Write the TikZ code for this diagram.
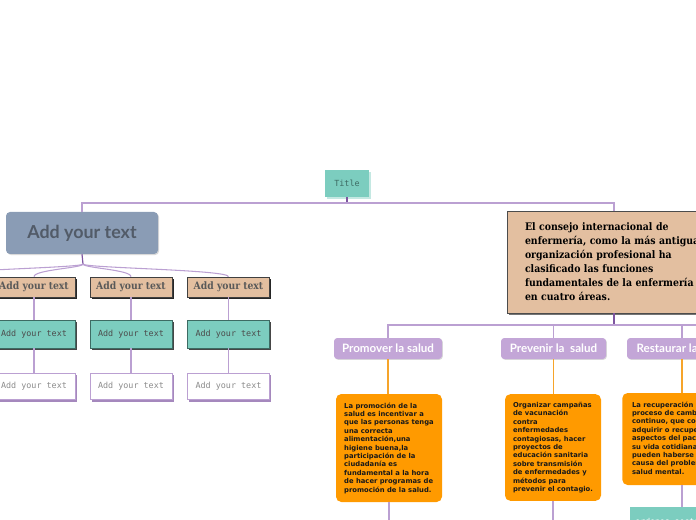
\documentclass[tikz,border=0pt]{standalone}
\usepackage{fontspec}
\setmainfont{DejaVu Sans}
\newfontfamily\headfont{Lato}
\newfontfamily\slabfont{DejaVu Serif Condensed}
\newfontfamily\codefont{DejaVu Sans Mono}
\usetikzlibrary{shadows}
\definecolor{teal}{HTML}{7CCDBF}
\definecolor{tealline}{HTML}{3D6B63}
\definecolor{tan}{HTML}{E3BFA0}
\definecolor{slate}{HTML}{8A9CB5}
\definecolor{slatetext}{HTML}{525B68}
\definecolor{lavender}{HTML}{C3A6D7}
\definecolor{orangebox}{HTML}{FF9A00}
\definecolor{orangeline}{HTML}{F6A42A}
\definecolor{linkpurple}{HTML}{BBA0D2}
\definecolor{darkpurple}{HTML}{7E55A0}
\tikzset{
  link/.style={draw=linkpurple, line width=0.8pt},
  darklink/.style={draw=darkpurple, line width=0.9pt},
  orangelink/.style={draw=orangeline, line width=1pt},
  titlebox/.style={fill=teal, minimum width=33pt, minimum height=20pt, inner sep=0pt,
    drop shadow={shadow xshift=1.5pt, shadow yshift=-1.5pt, fill=teal!45, opacity=1},
    font=\codefont\fontsize{6.3}{7}\selectfont, text=tealline},
  mainbox/.style={fill=slate, rounded corners=3pt, minimum width=114pt, minimum height=31.5pt,
    drop shadow={shadow xshift=0.8pt, shadow yshift=-0.8pt, fill=black, opacity=.15},
    font=\headfont\bfseries\fontsize{13.4}{14}\selectfont, text=slatetext},
  tanbox/.style={fill=tan, draw=black!75, line width=0.5pt, minimum width=61.5pt, minimum height=15pt,
    inner sep=0pt, drop shadow={shadow xshift=1.3pt, shadow yshift=-1.3pt, fill=black, opacity=.85},
    font=\slabfont\bfseries\fontsize{7.7}{9}\selectfont, text=black!65},
  tealbox/.style={fill=teal, draw=tealline, line width=0.5pt, minimum width=61.5pt, minimum height=21pt,
    inner sep=0pt, drop shadow={shadow xshift=1.3pt, shadow yshift=-1.3pt, fill=black!85, opacity=.85},
    font=\codefont\fontsize{6.3}{7}\selectfont, text=black!70},
  whitebox/.style={fill=white, draw=linkpurple, line width=0.6pt, minimum width=61.5pt, minimum height=20pt,
    inner sep=0pt, drop shadow={shadow xshift=1.3pt, shadow yshift=-1.3pt, fill=darkpurple!70, opacity=1},
    font=\codefont\fontsize{6.3}{7}\selectfont, text=black!45},
  notebox/.style={fill=tan, draw=black!70, line width=0.5pt, minimum width=160.5pt, minimum height=76.5pt,
    inner xsep=13.5pt, align=left, text width=133.5pt,
    drop shadow={shadow xshift=1.3pt, shadow yshift=-1.3pt, fill=black!60, opacity=.9},
    font=\slabfont\bfseries\fontsize{7.8}{10.5}\selectfont, text=black},
  areabox/.style={fill=lavender, rounded corners=2.5pt, minimum height=15.75pt, inner sep=0pt,
    drop shadow={shadow xshift=0.6pt, shadow yshift=-0.6pt, fill=black, opacity=.15},
    font=\headfont\bfseries\fontsize{8.7}{10}\selectfont, text=white},
  orangenote/.style={fill=orangebox, rounded corners=4pt, align=left, inner sep=0pt,
    font=\bfseries\fontsize{5.1}{6.3}\selectfont, text=black!90}
}
\begin{document}
\begin{tikzpicture}[x=0.75pt, y=-0.75pt]
\useasboundingbox (0,0) rectangle (696,520);
\clip (0,0) rectangle (696,520);
% top of the map
\node[titlebox] (title) at (347,183.5) {Title};
\coordinate (hub) at (347,203);
\node[mainbox] (main) at (82,233) {Add your text};
\node[notebox] (consejo) at (614,262) {El consejo internacional de\\
enfermería, como la más antigua\\
organización profesional ha\\
clasificado las funciones\\
fundamentales de la enfermería\\
en cuatro áreas.};
\draw[darklink] (title.south) -- (hub);
\draw[link] (main.north) |- (hub) -| (consejo.north);
% left branch
\node[tanbox] (tanA) at (34,287) {Add your text};
\node[tanbox] (tanB) at (131,287) {Add your text};
\node[tanbox] (tanC) at (228.5,287) {Add your text};
\node[tealbox] (tealA) at (34,334) {Add your text};
\node[tealbox] (tealB) at (131,334) {Add your text};
\node[tealbox] (tealC) at (228.5,334) {Add your text};
\node[whitebox] (whiteA) at (34,386.5) {Add your text};
\node[whitebox] (whiteB) at (131,386.5) {Add your text};
\node[whitebox] (whiteC) at (228.5,386.5) {Add your text};
\coordinate (fan) at (83,264);
\coordinate (offleft) at (-70,277);
\draw[darklink] (main.south) -- (fan);
\foreach \n in {tanA,tanB,tanC}
  \draw[link] (fan) .. controls +(0,4) and +(0,-7) .. (\n.north);
\draw[link] (fan) .. controls +(0,4) and +(0,-7) .. (offleft);
\foreach \n in {A,B,C}{
  \draw[link] (tan\n.south) -- (teal\n.north);
  \draw[link] (teal\n.south) -- (white\n.north);
}
% the four areas
\coordinate (hubB) at (614,325);
\node[areabox, minimum width=81pt] (promover) at (388,348.5) {Promover la salud};
\node[areabox, minimum width=78.75pt] (prevenir) at (553.5,348.5) {Prevenir la\ \ salud};
\node[areabox, minimum width=82.5pt] (restaurar) at (682,348.5) {Restaurar la salud};
\coordinate (areaD) at (800,338);
\draw[darklink] (consejo.south) -- (hubB);
\draw[link] (hubB) -| (promover.north);
\draw[link] (hubB) -| (prevenir.north);
\draw[link] (hubB) -| (restaurar.north);
\draw[link] (hubB) -| (areaD);
\node[orangenote, minimum width=79.5pt, minimum height=81pt] (promA) at (389,448) {La promoción de la\\
salud es incentivar a\\
que las personas tenga\\
una correcta\\
alimentación,una\\
higiene buena,la\\
participación de la\\
ciudadanía es\\
fundamental a la hora\\
de hacer programas de\\
promoción de la salud.};
\node[orangenote, minimum width=72pt, minimum height=80pt] (prevA) at (553,447.5) {Organizar campañas\\
de vacunación\\
contra\\
enfermedades\\
contagiosas, hacer\\
proyectos de\\
educación sanitaria\\
sobre transmisión\\
de enfermedades y\\
métodos para\\
prevenir el contagio.};
\node[orangenote, minimum width=90pt, minimum height=69pt, anchor=west] (restA) at (622,439) {\hspace*{5.3pt}\begin{tabular}{@{}l@{}}La recuperación es un\\
proceso de cambio\\
continuo, que consiste en\\
adquirir o recuperar\\
aspectos del paciente en\\
su vida cotidiana que\\
pueden haberse perdido a\\
causa del problema de\\
salud mental.\end{tabular}\hspace*{5pt}};
\draw[orangelink] (promover.south) -- (promover.south |- promA.north);
\draw[orangelink] (prevenir.south) -- (prevenir.south |- prevA.north);
\draw[orangelink] (restaurar.south) -- (restaurar.south |- restA.north);
% next level, below the page
\node[fill=teal, minimum width=78pt, minimum height=21pt, inner sep=0pt,
  font=\codefont\fontsize{6.1}{7}\selectfont, text=white] (restB) at (682,521) {ordenes sectoriales};
\coordinate (promB) at (389,540);
\coordinate (prevB) at (553,540);
\draw[link] (promA.south) -- (promB);
\draw[link] (prevA.south) -- (prevB);
\draw[link] (restaurar.south |- restA.south) -- (restB.north);
\end{tikzpicture}
\end{document}
